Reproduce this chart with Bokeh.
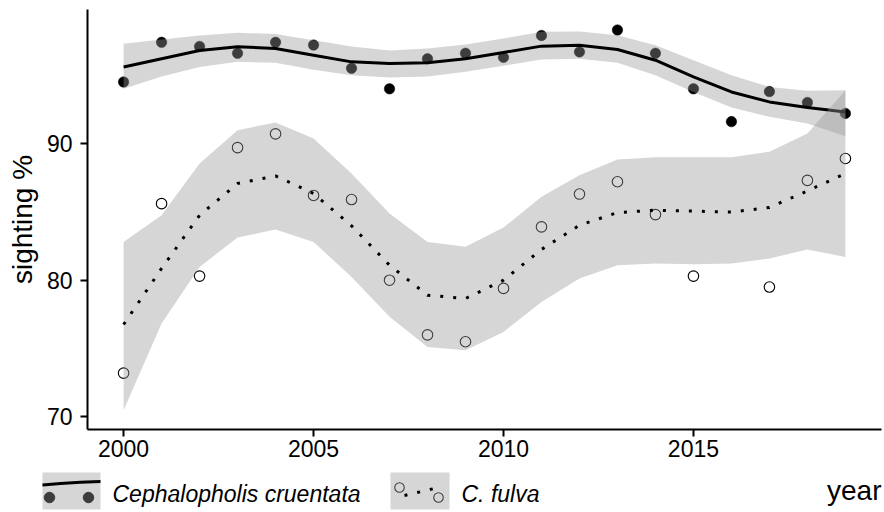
import numpy as np
from bokeh.plotting import figure
from bokeh.layouts import column
from bokeh.models import Range1d, FixedTicker, ColumnDataSource
from bokeh.core.properties import value
from bokeh.embed import file_html
from bokeh.resources import INLINE

# Annual sighting frequency (%) of two grouper species
years = list(range(2000, 2020))
cruentata = [94.5, 97.4, 97.1, 96.6, 97.4, 97.2, 95.5, 94.0, 96.2, 96.6,
             96.3, 97.9, 96.7, 98.3, 96.6, 94.0, 91.6, 93.8, 93.0, 92.2]
fulva = [73.2, 85.6, 80.3, 89.7, 90.7, 86.2, 85.9, 80.0, 76.0, 75.5,
         79.4, 83.9, 86.3, 87.2, 84.8, 80.3, np.nan, 79.5, 87.3, 88.9]

# Smoothed trend and its confidence band, per year
cru_fit = [95.6, 96.2, 96.8, 97.07, 96.95, 96.46, 95.97, 95.85, 95.9, 96.2,
           96.66, 97.12, 97.19, 96.87, 96.09, 94.87, 93.77, 93.04, 92.63, 92.31]
cru_upper = [97.3, 97.6, 97.9, 98.1, 98.0, 97.56, 97.1, 96.8, 96.95, 97.24,
             97.68, 98.17, 98.2, 97.92, 97.19, 96.09, 95.0, 94.14, 93.85, 93.9]
cru_lower = [94.0, 94.9, 95.6, 95.97, 95.9, 95.4, 95.0, 94.83, 94.9, 95.24,
             95.68, 96.14, 96.2, 95.9, 95.0, 93.77, 92.63, 91.95, 91.46, 90.53]

ful_fit = [76.76, 80.86, 84.75, 87.07, 87.63, 86.34, 83.98, 81.1, 78.9, 78.66,
           80.0, 82.25, 84.02, 84.95, 85.12, 85.05, 84.98, 85.32, 86.53, 87.8]
ful_upper = [82.8, 84.75, 88.54, 90.97, 91.54, 90.36, 87.8, 84.88, 82.8, 82.44,
             83.85, 86.1, 87.68, 88.83, 89.0, 89.0, 89.0, 89.4, 90.73, 93.9]
ful_lower = [70.49, 76.83, 80.97, 83.12, 83.71, 82.8, 80.24, 77.32, 75.12, 74.88,
             76.22, 78.41, 80.12, 81.1, 81.22, 81.17, 81.22, 81.59, 82.24, 81.7]

x_ticks = [2000, 2005, 2010, 2015]
y_ticks = [70, 80, 90]
species = ["Cephalopholis cruentata", "C. fulva"]

FONT = "Liberation Sans"
BAND = "#999999"
LEFT, RIGHT, TOP, BOTTOM = 87, 3, 9, 38
FRAME_W, FRAME_H = 794, 420
MAIN_H = TOP + FRAME_H + BOTTOM
LEG_H = 512 - MAIN_H

p = figure(frame_width=FRAME_W, frame_height=FRAME_H,
           min_border_left=LEFT, min_border_right=RIGHT, min_border_top=TOP,
           min_border_bottom=BOTTOM,
           x_range=Range1d(1999.05, 2019.95), y_range=Range1d(69.08, 99.8),
           output_backend="svg", toolbar_location=None)
p.outline_line_color = None
p.xgrid.grid_line_color = None
p.ygrid.grid_line_color = None
p.background_fill_color = "white"
p.border_fill_color = "white"

for ax in (p.xaxis[0], p.yaxis[0]):
    ax.axis_line_color = "black"
    ax.axis_line_width = 2
    ax.major_tick_line_color = "black"
    ax.major_tick_line_width = 2
    ax.major_tick_out = 7
    ax.major_tick_in = 0
    ax.minor_tick_line_color = None
    ax.major_label_text_font = FONT
    ax.major_label_text_font_size = "23px"
    ax.major_label_text_color = "black"

p.xaxis.ticker = FixedTicker(ticks=x_ticks)
p.yaxis.ticker = FixedTicker(ticks=y_ticks)
p.xaxis.major_label_standoff = 3
p.yaxis.major_label_standoff = 8
p.yaxis.axis_label = "sighting %"
p.yaxis.axis_label_text_font = FONT
p.yaxis.axis_label_text_font_size = "28px"
p.yaxis.axis_label_text_font_style = "normal"
p.yaxis.axis_label_text_color = "black"
p.yaxis.axis_label_standoff = 6

src = ColumnDataSource(dict(year=years, cru=cruentata, ful=fulva,
                            cru_fit=cru_fit, cru_lo=cru_lower, cru_hi=cru_upper,
                            ful_fit=ful_fit, ful_lo=ful_lower, ful_hi=ful_upper))

# observations first, smoothers drawn on top of them
p.scatter("year", "cru", source=src, size=10.5, fill_color="black",
          line_color="black", line_width=0.5)
p.scatter("year", "ful", source=src, size=10.5, fill_color=None,
          line_color="black", line_width=1.1)

p.varea("year", "cru_lo", "cru_hi", source=src, fill_color=BAND, fill_alpha=0.4)
p.line("year", "cru_fit", source=src, line_color="black", line_width=3)

p.varea("year", "ful_lo", "ful_hi", source=src, fill_color=BAND, fill_alpha=0.4)
p.line("year", "ful_fit", source=src, line_color="black", line_width=3,
       line_dash="3 10")

# legend row beneath the plot, spanning the whole page width;
# x in page pixels, y in pixels below the row's top edge
leg = figure(width=884, height=LEG_H, min_border=0,
             x_range=Range1d(0, 884), y_range=Range1d(LEG_H, 0),
             output_backend="svg", toolbar_location=None)
leg.frame_align = False
leg.axis.visible = False
leg.xgrid.grid_line_color = None
leg.ygrid.grid_line_color = None
leg.outline_line_color = None
leg.background_fill_color = "white"
leg.border_fill_color = "white"

OFF = MAIN_H
def ly(y):
    return y - OFF

# key 1: solid line with filled points
leg.scatter([49, 88], [ly(497), ly(497)], size=10.5, fill_color="black",
            line_color="black")
leg.quad(left=[42], right=[100], top=[ly(472)], bottom=[ly(509)], fill_color=BAND,
         fill_alpha=0.4, line_color=None)
leg.line([42, 60, 80, 100], [ly(484.5), ly(483), ly(481.8), ly(481)],
         line_color="black", line_width=3)

# key 2: dotted line with open points
leg.scatter([399, 438], [ly(487), ly(497)], size=9.5, fill_color=None,
            line_color="black", line_width=1.1)
leg.quad(left=[390], right=[449], top=[ly(472)], bottom=[ly(509)], fill_color=BAND,
         fill_alpha=0.4, line_color=None)
leg.line([404, 438], [ly(495), ly(487)], line_color="black", line_width=3,
         line_dash="3 10")

leg.text(x=[112, 461], y=[ly(493), ly(493)], text=species, text_font=value(FONT),
         text_font_size="23px", text_font_style="italic", text_color="black",
         text_baseline="middle", text_align="left")
leg.text(x=[881], y=[ly(490)], text=["year"], text_font=value(FONT),
         text_font_size="28px", text_color="black", text_baseline="middle",
         text_align="right")

layout = column(p, leg, spacing=0)
open("out.html", "w").write(file_html(layout, INLINE))
